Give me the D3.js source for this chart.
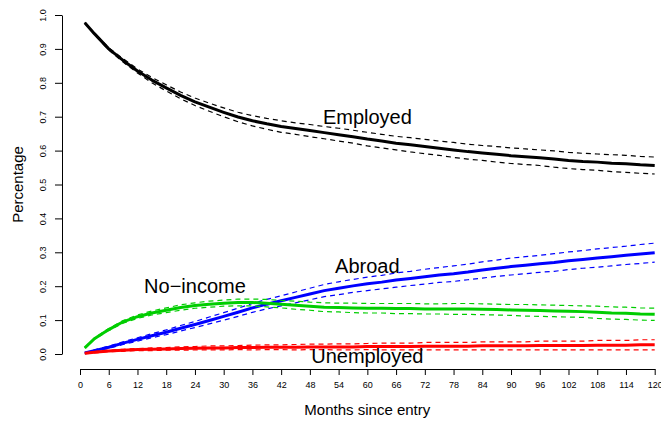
<!DOCTYPE html>
<html>
<head>
<meta charset="utf-8">
<script src="https://cdn.jsdelivr.net/npm/d3@7"></script>
<style>
  html, body { margin: 0; padding: 0; background: #fff; }
  svg { display: block; font-family: "Liberation Sans", Arial, sans-serif; }
</style>
</head>
<body>
<svg id="chart" width="661" height="421"></svg>
<script>
// ---- data ----
const months = [1,3,6,9,12,15,18,21,24,27,30,33,36,39,42,45,48,51,54,57,60,63,66,69,72,75,78,81,84,87,90,93,96,99,102,105,108,111,114,117,120];

const employed = [0.977,0.945,0.900,0.866,0.835,0.808,0.785,0.763,0.744,0.728,0.713,0.699,0.688,0.679,0.671,0.665,0.659,0.653,0.647,0.641,0.634,0.628,0.622,0.617,0.612,0.607,0.602,0.597,0.593,0.589,0.585,0.582,0.579,0.575,0.571,0.568,0.566,0.563,0.561,0.558,0.556];
const employedCI = [0.001,0.002,0.003,0.005,0.006,0.008,0.009,0.010,0.011,0.012,0.013,0.014,0.015,0.016,0.017,0.017,0.018,0.018,0.019,0.019,0.020,0.020,0.020,0.021,0.021,0.021,0.022,0.022,0.022,0.023,0.023,0.023,0.023,0.024,0.024,0.024,0.024,0.025,0.025,0.025,0.025];

const abroad = [0.003,0.010,0.020,0.032,0.043,0.054,0.064,0.076,0.087,0.099,0.111,0.123,0.136,0.147,0.157,0.167,0.177,0.187,0.194,0.201,0.207,0.212,0.218,0.223,0.228,0.233,0.237,0.242,0.248,0.253,0.258,0.262,0.266,0.270,0.275,0.279,0.283,0.287,0.291,0.295,0.299];
const abroadCI = [0.001,0.002,0.003,0.004,0.005,0.006,0.007,0.008,0.009,0.010,0.011,0.012,0.013,0.014,0.015,0.016,0.017,0.018,0.019,0.019,0.020,0.020,0.021,0.021,0.022,0.022,0.023,0.023,0.024,0.024,0.025,0.025,0.025,0.026,0.026,0.026,0.027,0.027,0.027,0.028,0.028];

const noIncome = [0.018,0.045,0.072,0.095,0.110,0.121,0.129,0.137,0.143,0.147,0.150,0.152,0.152,0.150,0.147,0.144,0.141,0.138,0.137,0.136,0.135,0.135,0.134,0.134,0.133,0.133,0.133,0.133,0.132,0.131,0.130,0.129,0.128,0.127,0.126,0.125,0.123,0.121,0.120,0.118,0.117];
const noIncomeCI = [0.001,0.002,0.003,0.004,0.005,0.006,0.007,0.008,0.008,0.009,0.009,0.010,0.010,0.011,0.011,0.012,0.012,0.013,0.013,0.014,0.014,0.014,0.015,0.015,0.015,0.015,0.016,0.016,0.016,0.016,0.016,0.017,0.017,0.017,0.017,0.017,0.018,0.018,0.018,0.018,0.018];

const unemployed = [0.002,0.005,0.009,0.011,0.013,0.014,0.015,0.016,0.017,0.018,0.018,0.019,0.019,0.020,0.020,0.020,0.021,0.021,0.021,0.021,0.022,0.022,0.022,0.022,0.023,0.023,0.023,0.023,0.024,0.024,0.024,0.024,0.025,0.025,0.025,0.025,0.026,0.026,0.026,0.027,0.027];
const unemployedCI = [0.001,0.002,0.002,0.003,0.003,0.004,0.004,0.005,0.005,0.006,0.006,0.006,0.007,0.007,0.007,0.008,0.008,0.008,0.009,0.009,0.009,0.010,0.010,0.010,0.011,0.011,0.011,0.011,0.012,0.012,0.012,0.012,0.013,0.013,0.013,0.013,0.014,0.014,0.014,0.015,0.015];

const xTicks = d3.range(0, 121, 6);
const yTicks = [0,0.1,0.2,0.3,0.4,0.5,0.6,0.7,0.8,0.9,1.0];

const seriesNames = ["Employed","Abroad","No\u2212income","Unemployed"];
const seriesColors = ["#000000","#0000ff","#00cd00","#ff0000"];
const seriesValues = [employed, abroad, noIncome, unemployed];
const seriesCI = [employedCI, abroadCI, noIncomeCI, unemployedCI];
// label anchor positions in data units [month, value]
const labelPos = [[60,0.70],[60,0.26],[24,0.20],[60,-0.005]];

// ---- drawing ----
const svg = d3.select("#chart");
const x = d3.scaleLinear().domain([0,120]).range([80,654.7]);
const y = d3.scaleLinear().domain([0,1]).range([354,15]);

// y axis
const yAxis = svg.append("g").attr("transform","translate(62,0)")
  .call(d3.axisLeft(y).tickValues(yTicks).tickSize(7).tickSizeOuter(0).tickFormat(d3.format(".1f")));
yAxis.select(".domain").attr("stroke","#000").attr("stroke-width",1);
yAxis.selectAll(".tick line").attr("stroke","#000");
yAxis.selectAll(".tick text")
  .attr("font-size", 9).attr("fill","#000")
  .attr("text-anchor","middle").attr("dy",null).attr("x",null)
  .attr("transform","translate(-19,0) rotate(-90)")
  .attr("dominant-baseline","central");

// x axis
const xAxis = svg.append("g").attr("transform","translate(0,369)")
  .call(d3.axisBottom(x).tickValues(xTicks).tickSize(6).tickSizeOuter(0).tickFormat(d3.format("d")));
xAxis.select(".domain").attr("stroke","#000").attr("stroke-width",1);
xAxis.selectAll(".tick line").attr("stroke","#000");
xAxis.selectAll(".tick text").attr("font-size", 9).attr("fill","#000").attr("y", 13).attr("dy","0.71em");

// axis titles
svg.append("text").attr("x",367.3).attr("y",415).attr("text-anchor","middle")
  .attr("font-size",15).text("Months since entry");
svg.append("text").attr("transform","translate(23,184.5) rotate(-90)").attr("text-anchor","middle")
  .attr("font-size",15).text("Percentage");

// lines
const line = d3.line().x(d => x(d[0])).y(d => y(d[1]));
seriesValues.forEach((vals, i) => {
  const ci = seriesCI[i];
  const upper = months.map((m,j) => [m, vals[j] + ci[j]]);
  const lower = months.map((m,j) => [m, vals[j] - ci[j]]);
  const mid = months.map((m,j) => [m, vals[j]]);
  [upper, lower].forEach(pts => {
    svg.append("path").attr("d", line(pts)).attr("fill","none")
      .attr("stroke", seriesColors[i]).attr("stroke-width",1.2).attr("stroke-dasharray","5,4");
  });
  svg.append("path").attr("d", line(mid)).attr("fill","none")
    .attr("stroke", seriesColors[i]).attr("stroke-width",3).attr("stroke-linejoin","round");
});

// labels
seriesNames.forEach((name, i) => {
  svg.append("text").attr("x", x(labelPos[i][0])).attr("y", y(labelPos[i][1]))
    .attr("text-anchor","middle").attr("dominant-baseline","central")
    .attr("font-size",20).attr("fill","#000").text(name);
});
</script>
</body>
</html>
